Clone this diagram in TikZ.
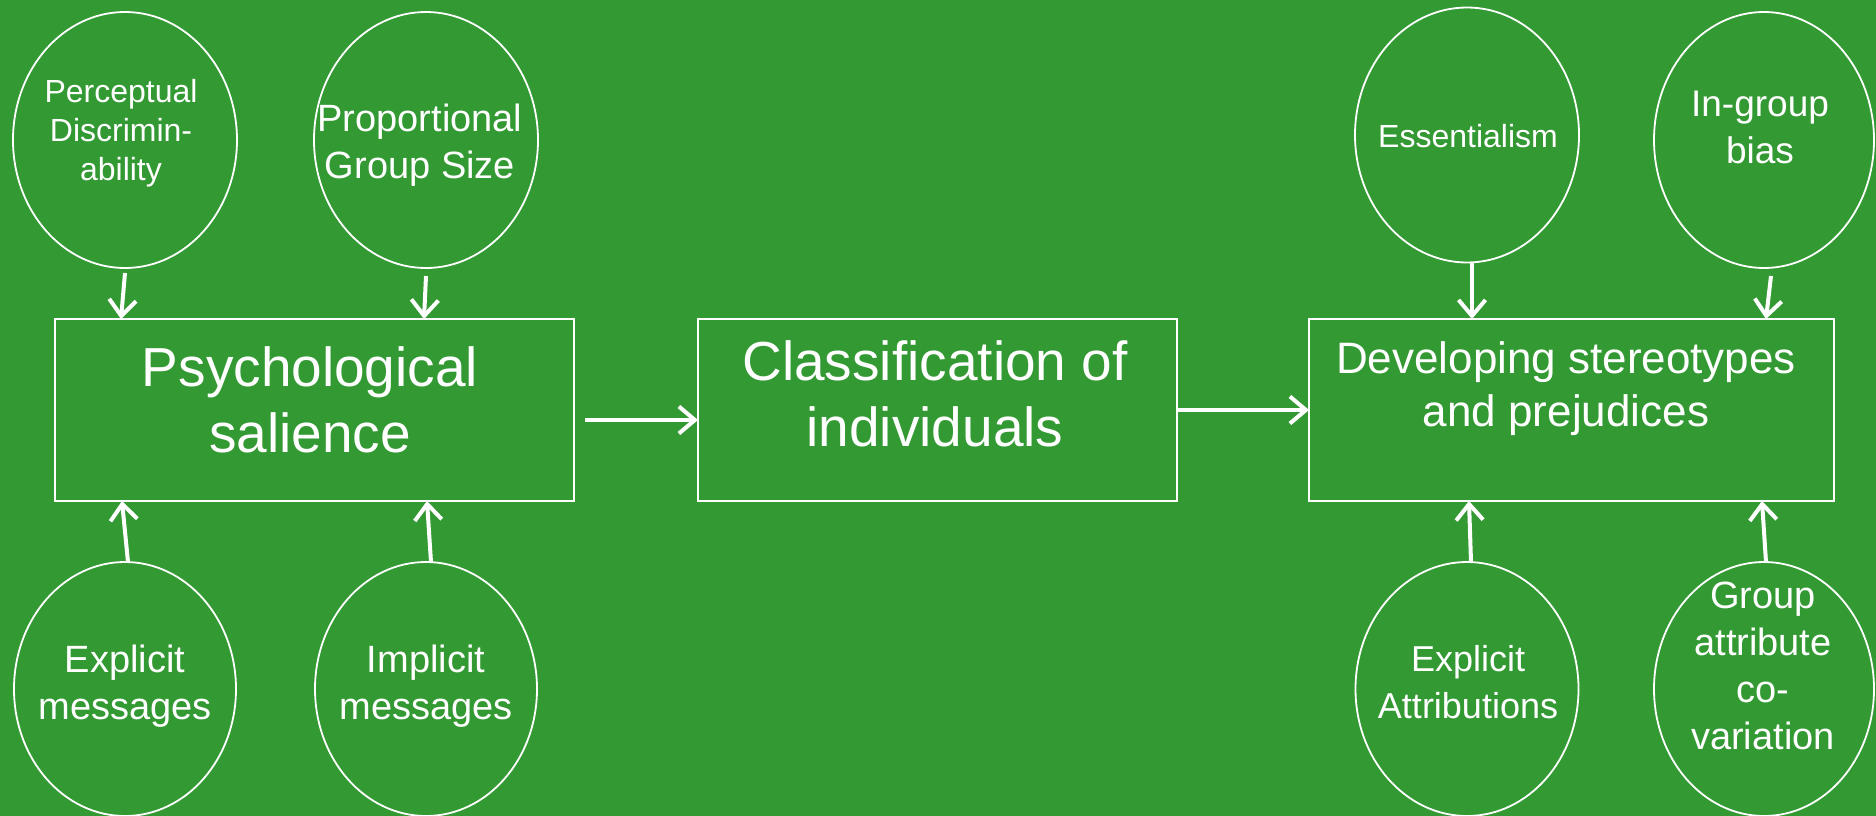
\documentclass[tikz,border=0pt]{standalone}
\usepackage{fontspec}
\setmainfont{Liberation Sans}
\usetikzlibrary{shapes.geometric,arrows.meta}
\definecolor{bg}{RGB}{51,153,51}
\begin{document}
\begin{tikzpicture}[x=1pt,y=-1pt,
  ell/.style={ellipse,draw=white,line width=1.8pt,inner sep=0pt,outer sep=0pt},
  boxn/.style={rectangle,draw=white,line width=1.8pt,inner sep=0pt,outer sep=0pt},
  txt/.style={text=white,align=center,inner sep=0pt,outer sep=0pt},
  arr/.style={draw=white,line width=4pt,-{Straight Barb[length=16pt,width=27pt,line width=4pt]}}]
\fill[bg] (0,0) rectangle (1876,816);
\useasboundingbox (0,0) rectangle (1876,816);
% boxes
\node[boxn,minimum width=519pt,minimum height=182pt] (b1) at (314.5,410) {};
\node[boxn,minimum width=479pt,minimum height=182pt] (b2) at (937.5,410) {};
\node[boxn,minimum width=525pt,minimum height=182pt] (b3) at (1571.5,410) {};
\node[txt,font=\fontsize{55}{66}\selectfont] (t1) at (310,400) {Psychological\\salience};
\node[txt,font=\fontsize{55}{66}\selectfont] (t2) at (935,394) {Classification of\\individuals};
\node[txt,font=\fontsize{44}{53}\selectfont] (t3) at (1566,389) {Developing stereotypes\\and prejudices};
% ellipses
\node[ell,minimum width=224pt,minimum height=256pt] (e1) at (125,140) {};
\node[ell,minimum width=224pt,minimum height=256pt] (e2) at (426,140) {};
\node[ell,minimum width=222pt,minimum height=254pt] (e3) at (125,689) {};
\node[ell,minimum width=222pt,minimum height=254pt] (e4) at (426,689) {};
\node[ell,minimum width=224pt,minimum height=255pt] (e5) at (1467,135) {};
\node[ell,minimum width=220pt,minimum height=256pt] (e6) at (1764,140) {};
\node[ell,minimum width=223pt,minimum height=254pt] (e7) at (1467,689) {};
\node[ell,minimum width=220pt,minimum height=254pt] (e8) at (1764,689) {};
\node[txt,font=\fontsize{32}{39}\selectfont] (s1) at (121,133) {Perceptual\\Discrimin-\\ability};
\node[txt,font=\fontsize{38}{47}\selectfont] (s2) at (420,145) {Proportional\\Group Size};
\node[txt,font=\fontsize{38}{47}\selectfont] (s3) at (125,686) {Explicit\\messages};
\node[txt,font=\fontsize{38}{47}\selectfont] (s4) at (426,686) {Implicit\\messages};
\node[txt,font=\fontsize{32}{39}\selectfont] (s5) at (1468,136.5) {Essentialism};
\node[txt,font=\fontsize{37}{47}\selectfont] (s6) at (1760,127) {In-group\\bias};
\node[txt,font=\fontsize{36}{47}\selectfont] (s7) at (1468,682) {Explicit\\Attributions};
\node[txt,font=\fontsize{38}{47}\selectfont] (s8) at (1763,666) {Group\\attribute\\co-\\variation};
% arrows
\draw[arr] ([yshift=-5pt]e1.south) -- ([xshift=-4pt]e1.south |- b1.north);
\draw[arr] ([yshift=-8pt]e2.south) -- ([xshift=-2pt]e2.south |- b1.north);
\draw[arr] ([xshift=3pt]e3.north) -- ([xshift=-3pt]e3.north |- b1.south);
\draw[arr] ([xshift=5pt]e4.north) -- ([xshift=1pt]e4.north |- b1.south);
\draw[arr] ([shift={(11pt,-10pt)}]b1.east) -- ([yshift=-10pt]b2.west);
\draw[arr] (b2.east) -- (b3.west);
\draw[arr] ([xshift=5pt]e5.south) -- ([xshift=5pt]e5.south |- b3.north);
\draw[arr] ([shift={(7pt,-8pt)}]e6.south) -- ([xshift=2pt]e6.south |- b3.north);
\draw[arr] ([xshift=4pt]e7.north) -- ([xshift=2pt]e7.north |- b3.south);
\draw[arr] ([xshift=2pt]e8.north) -- ([xshift=-2pt]e8.north |- b3.south);
\end{tikzpicture}
\end{document}
